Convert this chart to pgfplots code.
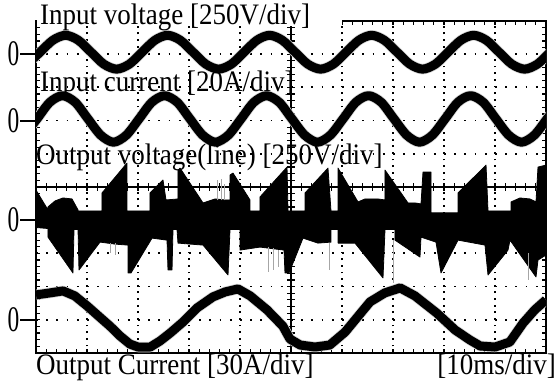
\documentclass[border=0pt]{standalone}
\usepackage{fontspec}
\setmainfont{Liberation Serif}
\usepackage{graphicx}
\usepackage{pgfplots}
\pgfplotsset{compat=1.18}
\newcommand{\lbl}[1]{\scalebox{1}[1.1]{#1}}

\begin{document}
\begin{tikzpicture}
\fontsize{27bp}{30bp}\selectfont
\begin{axis}[
  at={(36bp,34bp)}, anchor=south west,
  scale only axis, width=510bp, height=332bp,
  xmin=0, xmax=100, ymin=0, ymax=10,
  axis line style={line width=1.6bp, black},
  xtick={0,10,...,100}, ytick={0,1,...,10},
  xticklabels={}, yticklabels={},
  minor x tick num=4, minor y tick num=4,
  tick align=inside, major tick length=4bp, minor tick length=4bp,
  tick style={black, line width=1.2bp},
  grid=major,
  major x grid style={black, line width=1.8bp, dash pattern=on 1.8bp off 4.84bp},
  major y grid style={black, line width=1.8bp, dash pattern=on 1.8bp off 8.4bp},
]
% centre graticule
\draw[line width=1.6bp] (axis cs:50,0) -- (axis cs:50,10);
\draw[line width=1.6bp] (axis cs:0,5) -- (axis cs:100,5);
\pgfplotsinvokeforeach{0,2,...,100}{\draw[line width=1.2bp] (axis cs:#1,4.88) -- (axis cs:#1,5.12);}
\pgfplotsinvokeforeach{0,0.2,...,10}{\draw[line width=1.2bp] (axis cs:49.22,#1) -- (axis cs:50.78,#1);}

% Input voltage
\addplot[gray!35, line width=10.5bp, smooth, line join=round] coordinates {
(-1.7,8.70)(0.8,9.06)(3.3,9.42)(5.8,9.57)(8.3,9.42)(10.8,9.06)(13.3,8.70)(15.8,8.55)(18.3,8.70)
(20.8,9.06)(23.3,9.42)(25.8,9.57)(28.3,9.42)(30.8,9.06)(33.3,8.70)(35.8,8.55)(38.3,8.70)
(40.8,9.06)(43.3,9.42)(45.8,9.57)(48.3,9.42)(50.8,9.06)(53.3,8.70)(55.8,8.55)(58.3,8.70)
(60.8,9.06)(63.3,9.42)(65.8,9.57)(68.3,9.42)(70.8,9.06)(73.3,8.70)(75.8,8.55)(78.3,8.70)
(80.8,9.06)(83.3,9.42)(85.8,9.57)(88.3,9.42)(90.8,9.06)(93.3,8.70)(95.8,8.55)(98.3,8.70)
(100.8,9.06)(103.3,9.42)};
\addplot[black, line width=9bp, smooth, line join=round] coordinates {
(-1.7,8.70)(0.8,9.06)(3.3,9.42)(5.8,9.57)(8.3,9.42)(10.8,9.06)(13.3,8.70)(15.8,8.55)(18.3,8.70)
(20.8,9.06)(23.3,9.42)(25.8,9.57)(28.3,9.42)(30.8,9.06)(33.3,8.70)(35.8,8.55)(38.3,8.70)
(40.8,9.06)(43.3,9.42)(45.8,9.57)(48.3,9.42)(50.8,9.06)(53.3,8.70)(55.8,8.55)(58.3,8.70)
(60.8,9.06)(63.3,9.42)(65.8,9.57)(68.3,9.42)(70.8,9.06)(73.3,8.70)(75.8,8.55)(78.3,8.70)
(80.8,9.06)(83.3,9.42)(85.8,9.57)(88.3,9.42)(90.8,9.06)(93.3,8.70)(95.8,8.55)(98.3,8.70)
(100.8,9.06)(103.3,9.42)};

% Input current
\addplot[gray!35, line width=10.5bp, smooth, line join=round] coordinates {
(-2.3,6.56)(0.2,7.05)(2.7,7.55)(5.2,7.75)(7.7,7.55)(10.2,7.05)(12.7,6.56)(15.2,6.35)(17.7,6.56)
(20.2,7.05)(22.7,7.55)(25.2,7.75)(27.7,7.55)(30.2,7.05)(32.7,6.56)(35.2,6.35)(37.7,6.56)
(40.2,7.05)(42.7,7.55)(45.2,7.75)(47.7,7.55)(50.2,7.05)(52.7,6.56)(55.2,6.35)(57.7,6.56)
(60.2,7.05)(62.7,7.55)(65.2,7.75)(67.7,7.55)(70.2,7.05)(72.7,6.56)(75.2,6.35)(77.7,6.56)
(80.2,7.05)(82.7,7.55)(85.2,7.75)(87.7,7.55)(90.2,7.05)(92.7,6.56)(95.2,6.35)(97.7,6.56)
(100.2,7.05)(102.7,7.55)};
\addplot[black, line width=9bp, smooth, line join=round] coordinates {
(-2.3,6.56)(0.2,7.05)(2.7,7.55)(5.2,7.75)(7.7,7.55)(10.2,7.05)(12.7,6.56)(15.2,6.35)(17.7,6.56)
(20.2,7.05)(22.7,7.55)(25.2,7.75)(27.7,7.55)(30.2,7.05)(32.7,6.56)(35.2,6.35)(37.7,6.56)
(40.2,7.05)(42.7,7.55)(45.2,7.75)(47.7,7.55)(50.2,7.05)(52.7,6.56)(55.2,6.35)(57.7,6.56)
(60.2,7.05)(62.7,7.55)(65.2,7.75)(67.7,7.55)(70.2,7.05)(72.7,6.56)(75.2,6.35)(77.7,6.56)
(80.2,7.05)(82.7,7.55)(85.2,7.75)(87.7,7.55)(90.2,7.05)(92.7,6.56)(95.2,6.35)(97.7,6.56)
(100.2,7.05)(102.7,7.55)};

% Output voltage (line): PWM envelope
\addplot[fill=black, draw=black, line width=0.8bp, line join=round] coordinates {
(0,4.91)(2.35,4.31)(2.35,4.40)(3.73,4.58)(5.29,4.67)(7.06,4.64)(8.24,4.31)(8.24,4.28)
(12.94,4.28)(12.94,4.82)(17.84,5.72)(17.84,4.28)(22.35,4.28)(22.35,4.82)(24.9,5.21)
(25.49,4.61)(27.84,4.64)(27.84,5.51)(28.24,5.57)(32.75,4.52)(35.1,4.64)(37.06,4.61)
(38.04,4.61)(38.04,5.36)(38.63,5.42)(41.96,4.61)(41.96,4.28)(43.92,4.28)(43.92,4.70)
(49.22,5.60)(49.41,4.28)(52.75,4.28)(52.75,4.82)(57.25,5.57)(57.84,4.28)(59.22,4.28)
(59.22,5.57)(63.14,4.55)(64.51,4.64)(67.06,4.64)(68.43,4.61)(68.43,5.51)(72.94,4.52)
(74.31,4.52)(75.49,4.49)(75.88,5.45)(77.45,5.45)(77.45,4.22)(82.75,4.22)(82.75,4.82)
(88.24,5.66)(88.63,4.28)(93.14,4.28)(93.14,4.55)(94.9,4.67)(96.86,4.64)(98.04,4.55)
(98.43,5.60)(100,5.66)
(100,2.95)(98.43,2.80)(98.04,2.29)(92.94,3.40)(92.55,3.10)(88.63,2.35)(88.04,3.25)
(82.75,3.40)(79.41,2.41)(78.43,3.34)(75.49,3.49)(75.29,2.89)(70.39,3.40)(70.39,3.72)
(68.43,3.72)(68.04,2.26)(62.55,3.31)(59.22,3.31)(59.22,3.72)(57.84,3.72)(57.84,3.34)
(55.29,3.31)(52.35,3.46)(49.61,2.41)(48.82,2.41)(48.63,3.10)(43.92,3.19)(40,3.10)
(40,3.72)(38.04,3.72)(37.65,2.35)(32.75,3.25)(27.84,3.31)(27.65,3.72)(26.86,3.72)
(26.67,2.50)(25.88,2.50)(25.69,3.40)(22.75,3.46)(18.63,2.41)(18.04,2.41)(18.04,3.25)
(15.49,3.28)(12.55,3.34)(8.43,2.50)(8.24,3.72)(7.45,3.72)(7.25,2.41)(2.35,3.49)
(2.35,3.75)(0,3.78)};
% thin grey spikes
\addplot[gray!70, line width=0.7bp, unbounded coords=jump] coordinates {
(14.5,3.3)(14.5,3.0)(15.5,nan)(15.5,3.3)(15.5,2.95)(16,nan)
(35.5,4.6)(35.5,5.2)(36,nan)(36.3,4.6)(36.3,5.25)(36.6,nan)(37.0,4.6)(37.0,5.1)(37.3,nan)
(45.5,3.2)(45.5,2.45)(46,nan)(46.5,3.15)(46.5,2.5)(47,nan)(47.5,3.1)(47.5,2.6)(48,nan)
(57.6,3.3)(57.6,2.5)(58,nan)(70.0,3.4)(70.0,2.1)(70.2,nan)(96.5,3.0)(96.5,2.2)};

% Output current
\addplot[gray!35, line width=10.5bp, line join=round] coordinates {
(0,1.75)(2.75,1.81)(5.3,1.87)(7.6,1.72)(10,1.42)(12.5,1.08)(14.5,0.81)(16.5,0.51)
(18.4,0.27)(20,0.18)(22.4,0.18)(24.3,0.36)(26.3,0.60)(28.8,0.93)(31.6,1.36)(34.7,1.69)
(37.1,1.84)(39.6,1.93)(42,1.72)(45.3,1.30)(48.4,0.81)(49.8,0.42)(51.8,0.24)(54.7,0.18)
(57.6,0.24)(60.6,0.63)(63.5,1.17)(65.5,1.54)(68.4,1.81)(71.4,1.96)(74.3,1.72)(78.6,1.20)
(82.2,0.69)(85.1,0.39)(87.1,0.21)(90,0.18)(92.9,0.33)(95.5,0.90)(97.8,1.30)(100,1.60)};
\addplot[black, line width=9bp, line join=round] coordinates {
(0,1.75)(2.75,1.81)(5.3,1.87)(7.6,1.72)(10,1.42)(12.5,1.08)(14.5,0.81)(16.5,0.51)
(18.4,0.27)(20,0.18)(22.4,0.18)(24.3,0.36)(26.3,0.60)(28.8,0.93)(31.6,1.36)(34.7,1.69)
(37.1,1.84)(39.6,1.93)(42,1.72)(45.3,1.30)(48.4,0.81)(49.8,0.42)(51.8,0.24)(54.7,0.18)
(57.6,0.24)(60.6,0.63)(63.5,1.17)(65.5,1.54)(68.4,1.81)(71.4,1.96)(74.3,1.72)(78.6,1.20)
(82.2,0.69)(85.1,0.39)(87.1,0.21)(90,0.18)(92.9,0.33)(95.5,0.90)(97.8,1.30)(100,1.60)};
\end{axis}

% label background at top
\fill[white] (37bp,361bp) rectangle (342bp,387bp);
\node[anchor=base west, inner sep=0pt] at (40bp,362bp) {\lbl{Input voltage [250V/div]}};
\node[anchor=base west, inner sep=0pt] at (40bp,295bp) {\lbl{Input current [20A/div]}};
\node[anchor=base west, inner sep=0pt] at (36bp,222bp) {\lbl{Output voltage(line) [250V/div]}};
\node[anchor=base west, inner sep=0pt] at (36bp,13bp) {\lbl{Output Current [30A/div]}};
\node[anchor=base east, inner sep=0pt] at (556bp,13bp) {\lbl{[10ms/div]}};

% zero markers
\foreach \yy in {332.8,266.4,166.8,67.2}{
  \draw[line width=2bp] (20bp,\yy bp) -- (36bp,\yy bp);
  \node[inner sep=0pt] at (13.5bp,\yy bp) {\scalebox{0.65}[1]{\fontsize{36bp}{36bp}\selectfont 0}};
}

\pgfresetboundingbox
\path[use as bounding box] (0,0) rectangle (558bp,387bp);
\end{tikzpicture}
\end{document}
